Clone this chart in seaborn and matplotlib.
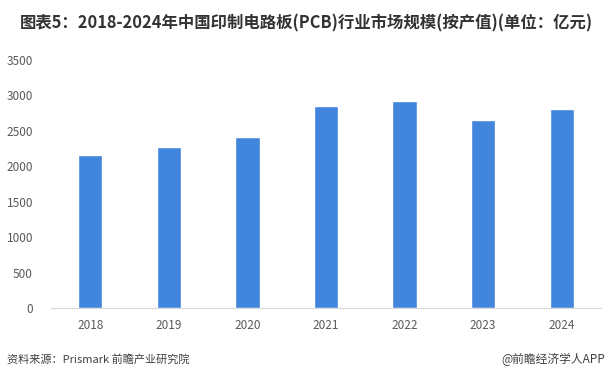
import seaborn as sns
import matplotlib.pyplot as plt
import pandas as pd

years = ['2018', '2019', '2020', '2021', '2022', '2023', '2024']
values = [2160, 2272, 2413, 2851, 2921, 2653, 2808]

sns.set_style('white')
plt.rcParams['font.family'] = ['Noto Sans CJK SC', 'DejaVu Sans']

df = pd.DataFrame({'year': years, 'value': values})

fig = plt.figure(figsize=(6.09, 3.82), dpi=100)
ax = fig.add_axes([51 / 609, 1 - 308 / 382, 550 / 609, 248 / 382])

sns.barplot(data=df, x='year', y='value', color='#4285DC', saturation=1,
            width=0.31, ax=ax)

ax.set_ylim(0, 3500)
ax.set_yticks(range(0, 3501, 500))
ax.set_xlabel('')
ax.set_ylabel('')
for s in ['top', 'right', 'left']:
    ax.spines[s].set_visible(False)
ax.spines['bottom'].set_color('#d9d9d9')
ax.tick_params(axis='both', length=0, labelsize=8.5, colors='#595959')
ax.tick_params(axis='y', pad=13)
ax.tick_params(axis='x', pad=8)

fig.text(20 / 609, 1 - 23 / 382,
         '图表5：2018-2024年中国印制电路板(PCB)行业市场规模(按产值)(单位：亿元)',
         fontsize=11.8, fontweight='bold', color='#333333', va='center')
fig.text(7 / 609, 1 - 359 / 382, '资料来源：Prismark 前瞻产业研究院',
         fontsize=8, color='#404040', va='center')
fig.text(605 / 609, 1 - 359 / 382, '@前瞻经济学人APP',
         fontsize=8.5, color='#404040', va='center', ha='right')

fig.savefig('out.png', dpi=100)
